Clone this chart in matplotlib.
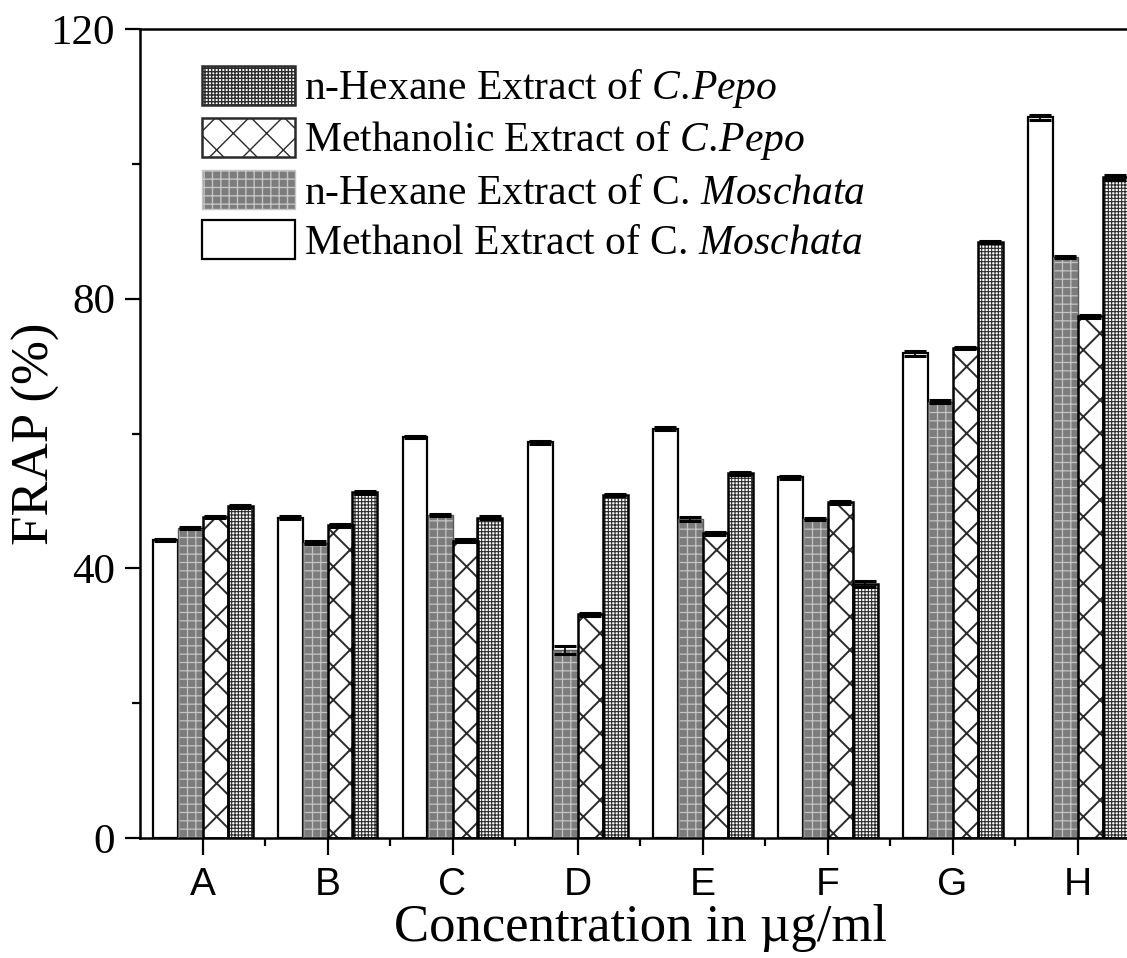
import numpy as np
import matplotlib
matplotlib.use('Agg')
import matplotlib.pyplot as plt
from matplotlib.patches import Patch

plt.rcParams['font.family'] = ['Liberation Serif', 'DejaVu Serif']
plt.rcParams['mathtext.fontset'] = 'custom'
plt.rcParams['mathtext.rm'] = 'Liberation Serif'
plt.rcParams['mathtext.it'] = 'Liberation Serif:italic'

groups = ['A', 'B', 'C', 'D', 'E', 'F', 'G', 'H']

# series in drawing order within each group
meoh_moschata = [44.2, 47.5, 59.5, 58.7, 60.7, 53.5, 71.9, 106.9]
hex_moschata = [46.0, 43.8, 47.9, 27.9, 47.3, 47.3, 64.7, 86.2]
meoh_pepo = [47.6, 46.4, 44.1, 33.2, 45.2, 49.8, 72.7, 77.4]
hex_pepo = [49.2, 51.3, 47.5, 50.9, 54.1, 37.7, 88.4, 98.0]

err_meoh_moschata = [0.2, 0.2, 0.2, 0.2, 0.2, 0.2, 0.4, 0.4]
err_hex_moschata = [0.2, 0.2, 0.2, 0.6, 0.3, 0.2, 0.2, 0.2]
err_meoh_pepo = [0.2, 0.2, 0.2, 0.2, 0.2, 0.2, 0.2, 0.2]
err_hex_pepo = [0.2, 0.2, 0.2, 0.2, 0.2, 0.4, 0.2, 0.4]

labels = ['n-Hexane Extract of $\\mathit{C.\\!Pepo}$',
          'Methanolic Extract of $\\mathit{C.\\!Pepo}$',
          'n-Hexane Extract of C. $\\mathit{Moschata}$',
          'Methanol Extract of C. $\\mathit{Moschata}$']

# (face, hatch, hatch colour, hatch lw, edge colour, edge lw)
styles = {
    'hex_pepo': ('white', '+++++', '#2c2c2c', 0.8, 'black', 1.8),
    'meoh_pepo': ('white', 'x', '#2a2a2a', 1.4, 'black', 1.8),
    'hex_moschata': ('#7c7c7c', '++', '#c4c4c4', 0.9, '#5a5a5a', 1.0),
    'meoh_moschata': ('white', None, 'black', 1.0, 'black', 1.6),
}

fig = plt.figure(figsize=(11.27, 9.58), dpi=100)
ax = fig.add_axes([140 / 1127, 120 / 958, 1000 / 1127, 809 / 958])

x = np.arange(1, len(groups) + 1)
w = 0.2


def hatched_bars(vals, errs, offset, style):
    face, hatch, hcolor, hlw, ecolor, elw = style
    with plt.rc_context({'hatch.linewidth': hlw}):
        bars = ax.bar(x + offset, vals, w, color=face, edgecolor=hcolor,
                      hatch=hatch, linewidth=0, zorder=2)
        for b in bars:
            if hasattr(b, 'set_hatch_linewidth'):
                b.set_hatch_linewidth(hlw)
    ax.bar(x + offset, vals, w, fill=False, edgecolor=ecolor,
           linewidth=elw, zorder=3)
    ax.errorbar(x + offset, vals, yerr=errs, fmt='none', ecolor='black',
                elinewidth=1.2, capsize=8, capthick=2.2, zorder=4)


hatched_bars(meoh_moschata, err_meoh_moschata, -1.5 * w, styles['meoh_moschata'])
hatched_bars(hex_moschata, err_hex_moschata, -0.5 * w, styles['hex_moschata'])
hatched_bars(meoh_pepo, err_meoh_pepo, 0.5 * w, styles['meoh_pepo'])
hatched_bars(hex_pepo, err_hex_pepo, 1.5 * w, styles['hex_pepo'])

handles = []
for key in ['hex_pepo', 'meoh_pepo', 'hex_moschata', 'meoh_moschata']:
    face, hatch, hcolor, hlw, ecolor, elw = styles[key]
    h = Patch(facecolor=face, edgecolor=hcolor if hatch else ecolor,
              hatch=hatch, linewidth=elw)
    if hasattr(h, 'set_hatch_linewidth'):
        h.set_hatch_linewidth(hlw)
    handles.append(h)

ax.legend(handles, labels, loc='upper left', bbox_to_anchor=(0.045, 0.975),
          frameon=False, fontsize=30, handlelength=2.25, handleheight=1.05,
          labelspacing=0.18, handletextpad=0.2, borderaxespad=0)

ax.set_xlim(0.5, 8.5)
ax.set_ylim(0, 120)
ax.set_xticks(x)
ax.set_xticklabels(groups, family=['Liberation Sans', 'DejaVu Sans'], fontsize=28)
ax.set_xticks(np.arange(1.5, 8.5, 1), minor=True)
ax.set_yticks([0, 40, 80, 120])
ax.set_yticks([20, 60, 100], minor=True)
ax.tick_params(axis='y', which='major', labelsize=31, length=11, width=1.6, pad=7)
ax.tick_params(axis='x', which='major', length=12, width=1.6, pad=9)
ax.tick_params(which='minor', length=6, width=1.6)
for s in ax.spines.values():
    s.set_linewidth(1.8)

ax.set_ylabel('FRAP (%)', fontsize=38)
ax.yaxis.set_label_coords(-0.08, 0.5)
ax.set_xlabel('Concentration in µg/ml', fontsize=38)
ax.xaxis.set_label_coords(0.5, -0.081)

fig.savefig('out.png', dpi=100)
